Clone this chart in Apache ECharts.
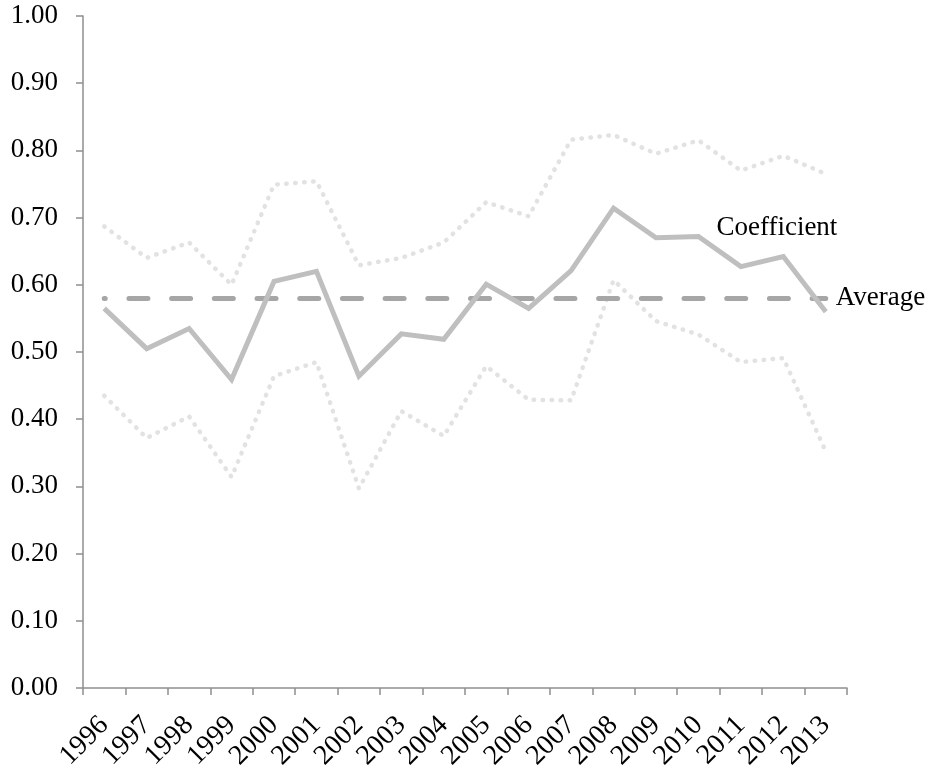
<!DOCTYPE html>
<html>
<head>
<meta charset="utf-8">
<style>
  html, body { margin: 0; padding: 0; background: #ffffff; }
  #chart { width: 933px; height: 770px; }
</style>
<script src="https://cdn.jsdelivr.net/npm/echarts@6/dist/echarts.min.js"></script>
</head>
<body>
<div id="chart"></div>
<script>
// Yearly coefficient with its upper and lower bounds, plus the period average
const years = ['1996', '1997', '1998', '1999', '2000', '2001', '2002', '2003', '2004',
               '2005', '2006', '2007', '2008', '2009', '2010', '2011', '2012', '2013'];

const coefficient = [0.565, 0.505, 0.535, 0.459, 0.605, 0.620, 0.464, 0.527, 0.519,
                     0.601, 0.565, 0.621, 0.714, 0.670, 0.672, 0.627, 0.642, 0.560];

const upperBound = [0.687, 0.640, 0.663, 0.600, 0.749, 0.754, 0.629, 0.640, 0.663,
                    0.723, 0.702, 0.816, 0.823, 0.795, 0.815, 0.770, 0.792, 0.765];

const lowerBound = [0.435, 0.372, 0.404, 0.314, 0.464, 0.485, 0.297, 0.412, 0.375,
                    0.479, 0.429, 0.428, 0.607, 0.546, 0.526, 0.485, 0.491, 0.352];

const average = 0.58;

const yTicks = { min: 0, max: 1, step: 0.1 };

const coefficientLabelYear = '2011';

const serif = '"Liberation Serif", "DejaVu Serif", serif';

const chart = echarts.init(document.getElementById('chart'), null, { renderer: 'canvas' });

const dotted = {
  color: '#e2e2e2',
  width: 4.5,
  type: [0.5, 8.5],
  cap: 'round'
};

chart.setOption({
  animation: false,
  backgroundColor: '#ffffff',
  grid: {
    left: 83, right: 86, top: 16, bottom: 82,
    containLabel: false,
    outerBoundsMode: 'none'
  },
  xAxis: {
    type: 'category',
    data: years,
    boundaryGap: true,
    axisLine: { show: true, lineStyle: { color: '#8e8e8e', width: 1.5 } },
    axisTick: { show: true, length: 7, alignWithLabel: false, lineStyle: { color: '#8e8e8e', width: 1.5 } },
    axisLabel: {
      rotate: 45,
      interval: 0,
      hideOverlap: false,
      margin: 33,
      color: '#000000',
      fontFamily: serif,
      fontSize: 28
    },
    splitLine: { show: false }
  },
  yAxis: {
    type: 'value',
    min: yTicks.min,
    max: yTicks.max,
    interval: yTicks.step,
    axisLine: { show: true, lineStyle: { color: '#8e8e8e', width: 1.5 } },
    axisTick: { show: true, length: 7, lineStyle: { color: '#8e8e8e', width: 1.5 } },
    axisLabel: {
      margin: 25,
      color: '#000000',
      fontFamily: serif,
      fontSize: 27,
      formatter: v => v.toFixed(2)
    },
    splitLine: { show: false }
  },
  series: [
    {
      name: 'Upper',
      type: 'line',
      data: upperBound,
      symbol: 'none',
      lineStyle: dotted,
      z: 1
    },
    {
      name: 'Lower',
      type: 'line',
      data: lowerBound,
      symbol: 'none',
      lineStyle: dotted,
      z: 1
    },
    {
      name: 'Coefficient',
      type: 'line',
      data: coefficient.map((v, i) => years[i] === coefficientLabelYear
        ? {
            value: v,
            label: {
              show: true,
              position: 'top',
              distance: 5,
              formatter: 'Coefficient',
              offset: [36, -20],
              color: '#000000',
              fontFamily: serif,
              fontSize: 27
            }
          }
        : v),
      symbol: 'circle',
      symbolSize: 0.01,
      showSymbol: true,
      showAllSymbol: true,
      itemStyle: { color: '#bfbfbf' },
      lineStyle: { color: '#bfbfbf', width: 5, cap: 'butt', join: 'miter' },
      z: 3,
      markLine: {
        silent: true,
        symbol: ['none', 'none'],
        lineStyle: {
          color: '#a6a6a6',
          width: 5,
          type: [19, 23.7],
          dashOffset: 18,
          cap: 'round'
        },
        label: {
          show: true,
          position: 'end',
          distance: 10,
          formatter: 'Average',
          color: '#000000',
          fontFamily: serif,
          fontSize: 27
        },
        data: [[
          { coord: [years[0], average] },
          { coord: [years[years.length - 1], average] }
        ]],
        z: 2
      }
    }
  ]
});
</script>
</body>
</html>
